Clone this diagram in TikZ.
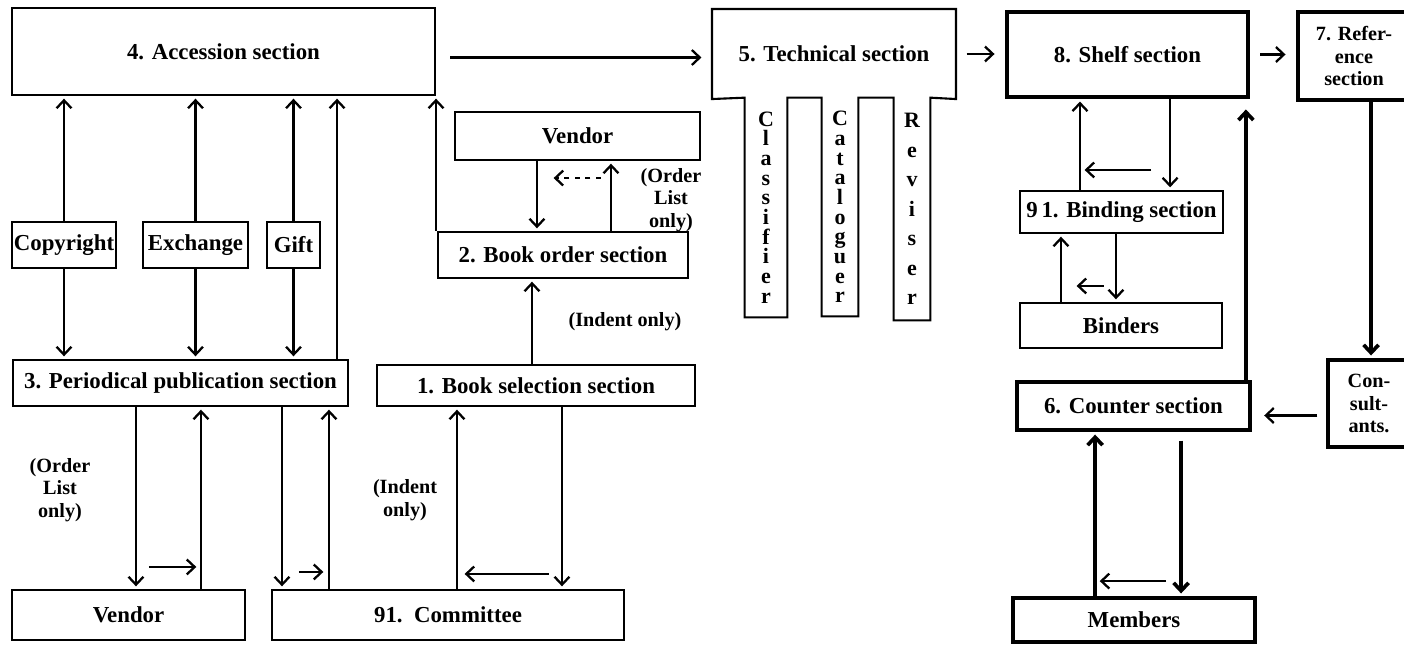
\documentclass[tikz,border=0pt]{standalone}
\usepackage{fontspec}
\setmainfont{Liberation Serif}
\usetikzlibrary{calc,arrows.meta}

\tikzset{
	sect/.style={draw, line width=1.2pt, inner sep=1pt, align=center, font=\bfseries\fontsize{13}{14.5}\selectfont},
	heavysect/.style={sect, line width=2.2pt},
	bare/.style={sect, draw=none},
	column/.style={inner sep=0pt, align=center, font=\bfseries\fontsize{12.5}{11.2}\selectfont},
	note/.style={inner sep=0pt, align=center, font=\bfseries\fontsize{11.5}{12.8}\selectfont},
	flow/.style={line width=1.3pt, -{Straight Barb[length=4.5pt,width=8.5pt]}, shorten >=1.5pt},
	heavyflow/.style={flow, line width=2.1pt}
}

\begin{document}
\begin{tikzpicture}[x=0.02cm, y=-0.02cm]
			%%%%% START %%%%%
			\useasboundingbox (0,0) rectangle (1404,646);
			
			% top row
			\node[sect, minimum width=8.46cm, minimum height=1.74cm] (acc) at (223.5,51.5) {4. Accession section};
			\node[bare, minimum width=4.84cm, minimum height=1.76cm] (tech) at (834,54) {5. Technical section};
			\node[heavysect, minimum width=4.82cm, minimum height=1.70cm] (shelf) at (1127.5,54.5) {8. Shelf section};
			\node[heavysect, minimum width=2.24cm, minimum height=1.76cm, font=\bfseries\fontsize{11.5}{12.8}\selectfont] (ref) at (1354,56) {7. Refer-\\ence\\section};
			
			% technical section staff
			\node[column, minimum width=0.84cm, minimum height=4.38cm] (cls) at (766,207.5) {C\\l\\a\\s\\s\\i\\f\\i\\e\\r};
			\node[column, minimum width=0.72cm, minimum height=4.36cm] (cat) at (840,207) {C\\a\\t\\a\\l\\o\\g\\u\\e\\r};
			\node[column, minimum width=0.72cm, minimum height=4.44cm, font=\bfseries\fontsize{12.5}{16.8}\selectfont] (rev) at (912,209) {R\\e\\v\\i\\s\\e\\r};
			\draw[line width=1.2pt] (cls.north west) -- (tech.south west) -- (tech.north west) -- (tech.north east) -- (tech.south east)
				-- (rev.north east) -- (rev.south east) -- (rev.south west) -- (rev.north west)
				-- (cat.north east) -- (cat.south east) -- (cat.south west) -- (cat.north west)
				-- (cls.north east) -- (cls.south east) -- (cls.south west) -- cycle;
			
			% sources
			\node[sect, minimum width=2.04cm, minimum height=0.92cm] (copy) at (64,245) {Copyright};
			\node[sect, minimum width=2.10cm, minimum height=0.92cm] (exch) at (195.5,245) {Exchange};
			\node[sect, minimum width=1.06cm, minimum height=0.92cm] (gift) at (293.5,245) {Gift};
			\node[sect, minimum width=6.70cm, minimum height=0.92cm] (per) at (180.5,383) {3. Periodical publication section};
			
			% ordering
			\node[sect, minimum width=4.90cm, minimum height=0.96cm] (vend1) at (577.5,136) {Vendor};
			\node[sect, minimum width=5.00cm, minimum height=0.92cm] (order) at (563,255) {2. Book order section};
			\node[sect, minimum width=6.36cm, minimum height=0.82cm] (sel) at (536,385.5) {1. Book selection section};
			\node[sect, minimum width=4.66cm, minimum height=1.00cm] (vend2) at (128.5,615) {Vendor};
			\node[sect, minimum width=7.04cm, minimum height=1.00cm] (comm) at (448,615) {91.~~Committee};
			
			% binding and service
			\node[sect, minimum width=4.06cm, minimum height=0.84cm] (bind) at (1121.5,212) {9\,1. Binding section};
			\node[sect, minimum width=4.04cm, minimum height=0.90cm] (binders) at (1121,325.5) {Binders};
			\node[heavysect, minimum width=4.66cm, minimum height=0.96cm] (counter) at (1133.5,406) {6. Counter section};
			\node[heavysect, minimum width=1.64cm, minimum height=1.74cm, font=\bfseries\fontsize{11.5}{12.8}\selectfont] (cons) at (1369,403.5) {Con-\\sult-\\ants.};
			\node[heavysect, minimum width=4.84cm, minimum height=0.88cm] (members) at (1134,620) {Members};
			
			% notes
			\node[note] (olist) at (671,200) {(Order\\List\\only)};
			\node[note] (indent) at (625,322) {(Indent only)};
			\node[note] (olist2) at (60,490) {(Order\\List\\only)};
			\node[note] (indent2) at (405,500) {(Indent\\only)};
			
			% into accession
			\draw[flow] (copy.north) -- (copy.north |- acc.south);
			\draw[flow] (copy.south) -- (copy.south |- per.north);
			\draw[flow] (exch.north) -- (exch.north |- acc.south);
			\draw[flow] (exch.south) -- (exch.south |- per.north);
			\draw[flow] (gift.north) -- (gift.north |- acc.south);
			\draw[flow] (gift.south) -- (gift.south |- per.north);
			\coordinate (perup) at ($(per.north east)+(-12,0)$);
			\draw[flow] (perup) -- (perup |- acc.south);
			\draw[flow] (order.north west -| acc.south east) -- (acc.south east);
			
			% vendor and book order
			\coordinate (vdown) at ($(vend1.south west)+(83,0)$);
			\coordinate (oup) at ($(order.north west)+(174,0)$);
			\draw[flow] (vdown) -- (vdown |- order.north);
			\draw[flow] (oup) -- (oup |- vend1.south);
			\draw[flow, dashed] ($(oup |- vend1.south)+(-10,17)$) -- ($(vdown |- vend1.south)+(14,17)$);
			\coordinate (selup) at ($(sel.north west)+(156,0)$);
			\draw[flow] (selup) -- (selup |- order.south);
			
			% periodicals
			\coordinate (pvd) at ($(per.south west)+(124,0)$);
			\coordinate (vpu) at ($(vend2.north west)+(190,0)$);
			\draw[flow] (pvd) -- (pvd |- vend2.north);
			\draw[flow] (vpu) -- (vpu |- per.south);
			\draw[flow] ($(pvd |- vend2.north)+(13,-22)$) -- ($(vpu |- vend2.north)+(-2,-22)$);
			\coordinate (pcd) at ($(per.south west)+(270,0)$);
			\coordinate (cpu) at ($(comm.north west)+(58,0)$);
			\draw[flow] (pcd) -- (pcd |- comm.north);
			\draw[flow] (cpu) -- (cpu |- per.south);
			\draw[flow] ($(pcd |- comm.north)+(17,-17)$) -- ($(cpu |- comm.north)+(-3,-17)$);
			
			% selection and committee
			\coordinate (csu) at ($(comm.north west)+(186,0)$);
			\coordinate (scd) at ($(sel.south west)+(186,0)$);
			\draw[flow] (csu) -- (csu |- sel.south);
			\draw[flow] (scd) -- (scd |- comm.north);
			\draw[flow] ($(scd |- comm.north)+(-13,-15)$) -- ($(csu |- comm.north)+(5,-15)$);
			
			% main line
			\draw[flow, shorten <=8pt, shorten >=6pt] ($(acc.east)+(0,6)$) -- ($(acc.east -| tech.west)+(0,6)$);
			\draw[flow, shorten <=6pt, shorten >=6pt] (tech.east) -- (tech.east -| shelf.west);
			\draw[flow, shorten <=6pt, shorten >=6pt] (shelf.east) -- (shelf.east -| ref.west);
			
			% binding
			\coordinate (bsu) at ($(bind.north west)+(61,0)$);
			\coordinate (sbd) at ($(shelf.south west)+(165,0)$);
			\draw[flow] (bsu) -- (bsu |- shelf.south);
			\draw[flow] (sbd) -- (sbd |- bind.north);
			\draw[flow] ($(sbd |- bind.north)+(-19,-20)$) -- ($(bsu |- bind.north)+(2,-20)$);
			\coordinate (bbu) at ($(binders.north west)+(42,0)$);
			\coordinate (bbd) at ($(bind.south west)+(97,0)$);
			\draw[flow] (bbu) -- (bbu |- bind.south);
			\draw[flow] (bbd) -- (bbd |- binders.north);
			\draw[flow] ($(bbd |- binders.north)+(-12,-16)$) -- ($(bbu |- binders.north)+(13,-16)$);
			
			% counter, reference, members
			\coordinate (csh) at ($(counter.north east)+(-6,0)$);
			\draw[heavyflow, shorten >=6pt] (csh) -- (csh |- shelf.south);
			\coordinate (rcd) at ($(ref.south west)+(75,0)$);
			\draw[heavyflow] (rcd) -- (rcd |- cons.north);
			\draw[flow, shorten <=5pt, shorten >=7pt] ($(cons.west)+(0,12)$) -- ($(cons.west -| counter.east)+(0,12)$);
			\coordinate (mcu) at ($(members.north west)+(84,0)$);
			\coordinate (cmd) at ($(counter.south west)+(166,0)$);
			\draw[heavyflow] (mcu) -- (mcu |- counter.south);
			\draw[heavyflow, shorten <=5pt] (cmd) -- (cmd |- members.north);
			\draw[flow] ($(cmd |- members.north)+(-15,-15)$) -- ($(mcu |- members.north)+(2,-15)$);
			
			%%%%% END %%%%%
\end{tikzpicture}
\end{document}
